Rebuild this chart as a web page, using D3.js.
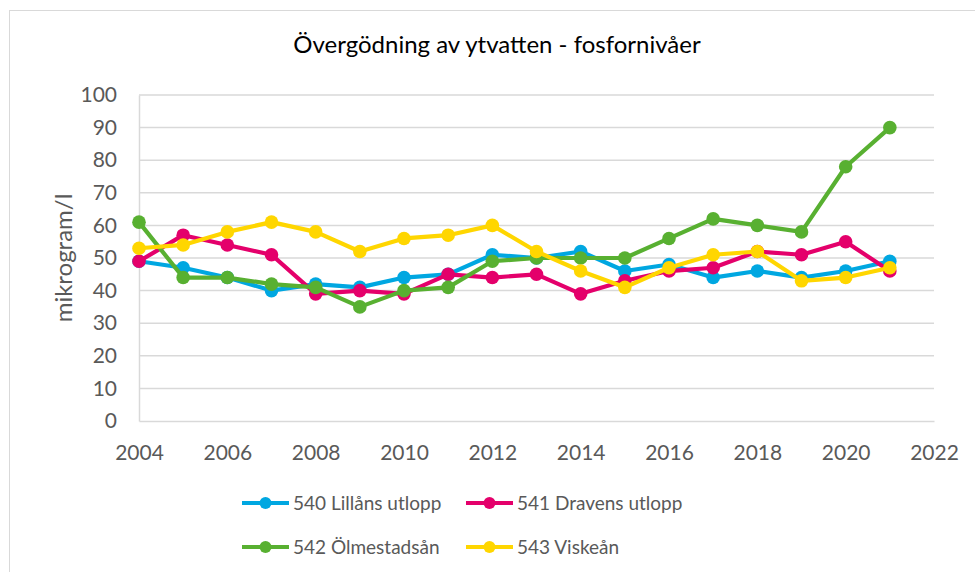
<!DOCTYPE html>
<html><head><meta charset="utf-8">
<script src="https://cdn.jsdelivr.net/npm/d3@7"></script>
<style>body{margin:0;background:#fff;} svg{display:block;}</style>
</head><body>
<svg id="c" width="975" height="572"></svg>
<script>
const years = [2004,2005,2006,2007,2008,2009,2010,2011,2012,2013,2014,2015,2016,2017,2018,2019,2020,2021];
const seriesNames = ["540 Lillåns utlopp","541 Dravens utlopp","542 Ölmestadsån","543 Viskeån"];
const lillan   = [49,47,44,40,42,41,44,45,51,50,52,46,48,44,46,44,46,49];
const draven   = [49,57,54,51,39,40,39,45,44,45,39,43,46,47,52,51,55,46];
const olmestad = [61,44,44,42,41,35,40,41,49,50,50,50,56,62,60,58,78,90];
const viskean  = [53,54,58,61,58,52,56,57,60,52,46,41,47,51,52,43,44,47];
const xTicks = [2004,2006,2008,2010,2012,2014,2016,2018,2020,2022];
const yTicks = [0,10,20,30,40,50,60,70,80,90,100];
const title = "Övergödning av ytvatten - fosfornivåer";
const yTitle = "mikrogram/l";

const colors = ["#00a7e1","#e4006b","#58b031","#ffd600"];
const data = [lillan, draven, olmestad, viskean];
const font = "Lato, 'Open Sans', sans-serif";

const svg = d3.select("#c");
svg.append("rect").attr("x",9.5).attr("y",10.5).attr("width",975).attr("height",575)
  .attr("fill","#fff").attr("stroke","#d9d9d9").attr("stroke-width",1);

const x = d3.scaleLinear().domain([2004,2022]).range([139,934]);
const y = d3.scaleLinear().domain([0,100]).range([421,95]);

// gridlines
svg.append("g").selectAll("line").data(yTicks.filter(d=>d>0)).join("line")
  .attr("x1",139).attr("x2",934).attr("y1",d=>y(d)).attr("y2",d=>y(d))
  .attr("stroke","#d9d9d9").attr("stroke-width",1.5);

// axes
const ya = svg.append("g").attr("transform","translate(139,0)")
  .call(d3.axisLeft(y).tickValues(yTicks).tickSize(0).tickPadding(22));
ya.select(".domain").attr("stroke","#d9d9d9").attr("stroke-width",1.5);
ya.selectAll("text").attr("font-family",font).attr("font-size",21).attr("fill","#595959");

const xa = svg.append("g").attr("transform","translate(0,421)")
  .call(d3.axisBottom(x).tickValues(xTicks).tickFormat(d3.format("d")).tickSize(0).tickPadding(24));
xa.select(".domain").attr("stroke","#d9d9d9").attr("stroke-width",1.5);
xa.selectAll("text").attr("font-family",font).attr("font-size",21).attr("fill","#595959");

// title
svg.append("text").attr("x",497).attr("y",53).attr("text-anchor","middle")
  .attr("font-family",font).attr("font-size",24).attr("fill","#000").text(title);
svg.append("text").attr("transform","translate(72,258) rotate(-90)").attr("text-anchor","middle")
  .attr("font-family",font).attr("font-size",24).attr("fill","#595959").text(yTitle);

// series
const line = d3.line().x((d,i)=>x(years[i])).y(d=>y(d));
data.forEach((vals,k)=>{
  const g = svg.append("g");
  g.append("path").datum(vals).attr("d",line).attr("fill","none")
    .attr("stroke",colors[k]).attr("stroke-width",4.2).attr("stroke-linejoin","round");
  g.selectAll("circle").data(vals).join("circle")
    .attr("cx",(d,i)=>x(years[i])).attr("cy",d=>y(d)).attr("r",6.8).attr("fill",colors[k]);
});

// legend
const legPos = [[242,503],[466,503],[242,547],[466,547]];
seriesNames.forEach((n,k)=>{
  const [lx,ly] = legPos[k];
  const g = svg.append("g").attr("transform",`translate(${lx},${ly})`);
  g.append("line").attr("x1",0).attr("x2",47).attr("y1",0).attr("y2",0)
    .attr("stroke",colors[k]).attr("stroke-width",4);
  g.append("circle").attr("cx",23.5).attr("cy",0).attr("r",6).attr("fill",colors[k]);
  g.append("text").attr("x",51).attr("y",7).attr("font-family",font).attr("font-size",19)
    .attr("fill","#595959").text(n);
});
</script>
</body></html>
